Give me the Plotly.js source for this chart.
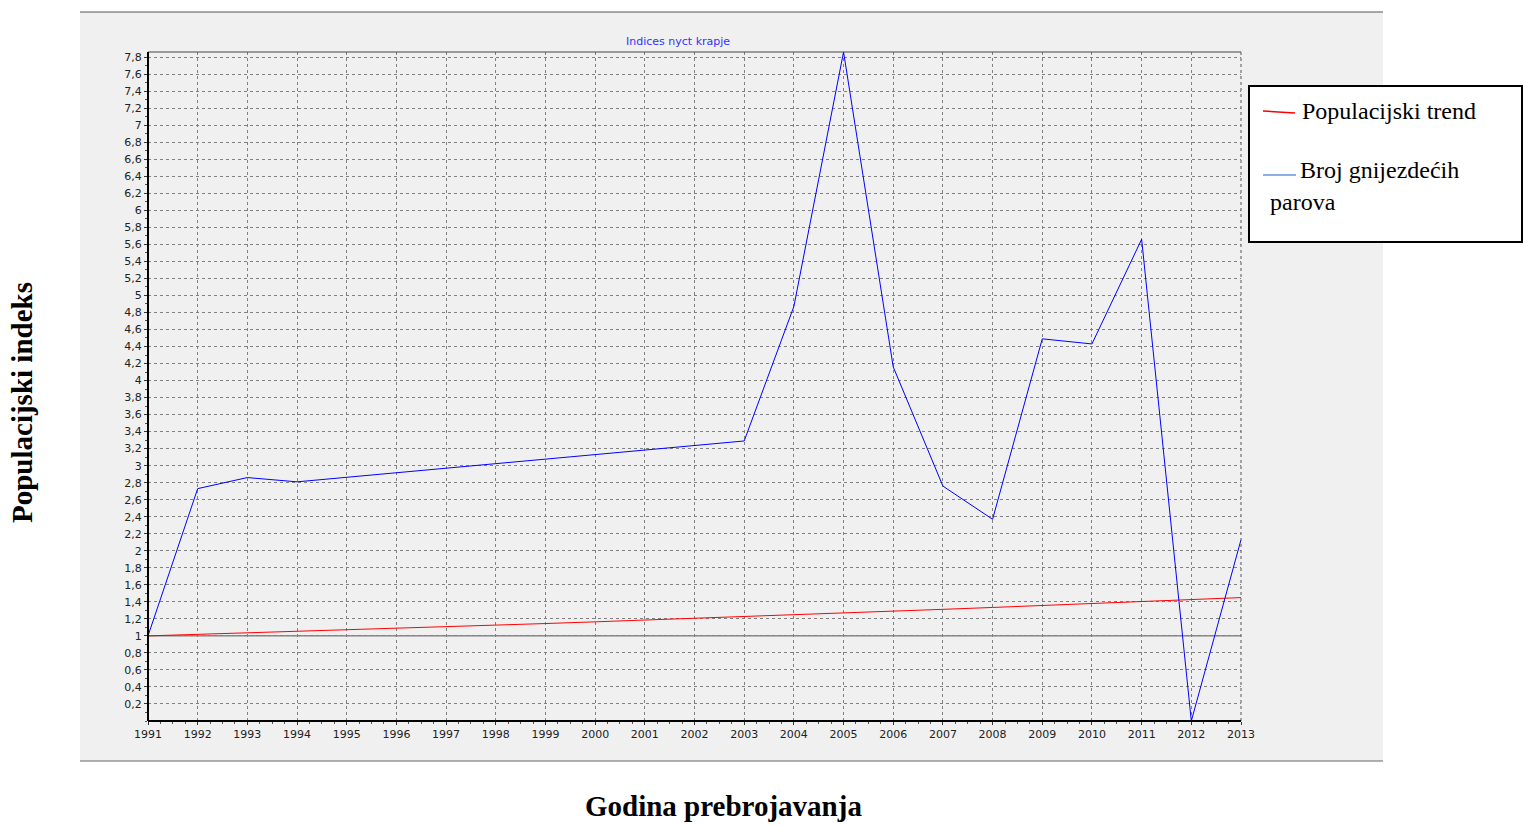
<!DOCTYPE html>
<html>
<head>
<meta charset="utf-8">
<script src="https://cdn.plot.ly/plotly-3.0.1.min.js"></script>
<style>html,body{margin:0;padding:0;background:#fff;}#chart{width:1523px;height:826px;}</style>
</head>
<body>
<div id="chart"></div>
<script>
// Data
const chartTitle = 'Indices nyct krapje';
const xTitle = 'Godina prebrojavanja';
const yTitle = 'Populacijski indeks';
const seriesNames = ['Populacijski trend', 'Broj gnijezdećih', 'parova'];

const countYears  = [1991, 1992, 1993, 1994, 2003, 2004, 2005, 2006, 2007, 2008, 2009, 2010, 2011, 2012, 2013];
const countValues = [1.00, 2.73, 2.86, 2.81, 3.29, 4.87, 7.86, 4.16, 2.76, 2.37, 4.49, 4.43, 5.66, 0.00, 2.13];

const trendYears  = [1991, 1992, 1993, 1994, 1995, 1996, 1997, 1998, 1999, 2000, 2001, 2002,
                     2003, 2004, 2005, 2006, 2007, 2008, 2009, 2010, 2011, 2012, 2013];
const trendValues = [1.000, 1.017, 1.034, 1.052, 1.070, 1.088, 1.107, 1.126, 1.145, 1.165, 1.185, 1.205,
                     1.226, 1.247, 1.268, 1.290, 1.312, 1.334, 1.357, 1.381, 1.404, 1.428, 1.450];

const xTickLabels = ['1991','1992','1993','1994','1995','1996','1997','1998','1999','2000','2001','2002',
                     '2003','2004','2005','2006','2007','2008','2009','2010','2011','2012','2013'];
const yTickLabels = ['0,2','0,4','0,6','0,8','1','1,2','1,4','1,6','1,8','2','2,2','2,4','2,6','2,8','3',
                     '3,2','3,4','3,6','3,8','4','4,2','4,4','4,6','4,8','5','5,2','5,4','5,6','5,8','6',
                     '6,2','6,4','6,6','6,8','7','7,2','7,4','7,6','7,8'];
const yTickVals = yTickLabels.map(s => parseFloat(s.replace(',', '.')));
const xTickVals = xTickLabels.map(Number);
const baseline = 1;

const tickFont = {family: 'DejaVu Sans, sans-serif', size: 11, color: '#222222'};
const serif = 'Liberation Serif, Times New Roman, serif';

// pixel -> paper helpers (plot area: x 148..1241, y 52..721)
const L = 148, R = 1241, T = 52, B = 721;
const px = x => (x - L) / (R - L);
const py = y => (B - y) / (B - T);

const traces = [
  {x: trendYears, y: trendValues, type: 'scatter', mode: 'lines', name: 'Populacijski trend',
   line: {color: '#ff0000', width: 1}, showlegend: false, cliponaxis: false},
  {x: countYears, y: countValues, type: 'scatter', mode: 'lines', name: 'Broj gnijezdećih parova',
   line: {color: '#0000ff', width: 1}, showlegend: false, cliponaxis: false}
];

const shapes = [
  // grey panel
  {type: 'rect', xref: 'paper', yref: 'paper', x0: px(80), x1: px(1383), y0: py(761), y1: py(12),
   fillcolor: '#f0f0f0', line: {width: 0}, layer: 'below'},
  {type: 'line', xref: 'paper', yref: 'paper', x0: px(80), x1: px(1383), y0: py(12), y1: py(12),
   line: {color: '#555555', width: 1}},
  {type: 'line', xref: 'paper', yref: 'paper', x0: px(80), x1: px(1383), y0: py(761), y1: py(761),
   line: {color: '#666666', width: 1}},
  // baseline at 1
  {type: 'line', xref: 'paper', yref: 'y', x0: 0, x1: 1, y0: baseline, y1: baseline,
   line: {color: '#555555', width: 1}, layer: 'below'},
  // plot frame
  {type: 'line', xref: 'paper', yref: 'paper', x0: 0, x1: 1, y0: 1, y1: 1, line: {color: '#444444', width: 1}},
  {type: 'line', xref: 'paper', yref: 'paper', x0: 1, x1: 1, y0: 0, y1: 1, line: {color: '#555555', width: 1, dash: 'dot'}},
  {type: 'line', xref: 'paper', yref: 'paper', x0: 0, x1: 0, y0: 0, y1: 1, line: {color: '#000000', width: 2}},
  {type: 'line', xref: 'paper', yref: 'paper', x0: 0, x1: 1, y0: 0, y1: 0, line: {color: '#000000', width: 2}},
  // legend box
  {type: 'rect', xref: 'paper', yref: 'paper', x0: px(1249), x1: px(1522), y0: py(242), y1: py(86),
   fillcolor: '#ffffff', line: {color: '#000000', width: 2}},
  {type: 'line', xref: 'paper', yref: 'paper', x0: px(1263), x1: px(1295), y0: py(111), y1: py(113),
   line: {color: '#ff0000', width: 1.5}},
  {type: 'line', xref: 'paper', yref: 'paper', x0: px(1263), x1: px(1296), y0: py(175), y1: py(175),
   line: {color: '#6495dd', width: 1.5}}
];

const annotations = [
  {text: chartTitle, xref: 'paper', yref: 'paper', x: px(678), y: py(41), xanchor: 'center', yanchor: 'middle',
   showarrow: false, font: {family: 'DejaVu Sans, sans-serif', size: 11, color: '#3333ff'}},
  {text: '<b>' + xTitle + '</b>', xref: 'paper', yref: 'paper', x: px(723), y: py(806), xanchor: 'center', yanchor: 'middle',
   showarrow: false, font: {family: serif, size: 29, color: '#000000'}},
  {text: '<b>' + yTitle + '</b>', xref: 'paper', yref: 'paper', x: px(22), y: py(403), xanchor: 'center', yanchor: 'middle',
   textangle: -90, showarrow: false, font: {family: serif, size: 29, color: '#000000'}},
  {text: seriesNames[0], xref: 'paper', yref: 'paper', x: px(1300), y: py(111), xanchor: 'left', yanchor: 'middle',
   showarrow: false, font: {family: serif, size: 24, color: '#000000'}},
  {text: seriesNames[1], xref: 'paper', yref: 'paper', x: px(1298), y: py(170), xanchor: 'left', yanchor: 'middle',
   showarrow: false, font: {family: serif, size: 24, color: '#000000'}},
  {text: seriesNames[2], xref: 'paper', yref: 'paper', x: px(1268), y: py(202), xanchor: 'left', yanchor: 'middle',
   showarrow: false, font: {family: serif, size: 24, color: '#000000'}}
];

const layout = {
  width: 1523, height: 826,
  margin: {l: L, r: 1523 - R, t: T, b: 826 - B, pad: 0},
  paper_bgcolor: '#ffffff',
  plot_bgcolor: '#f0f0f0',
  separators: ', ',
  showlegend: false,
  xaxis: {
    range: [1991, 2013], tickvals: xTickVals, ticktext: xTickLabels, tickfont: tickFont,
    showgrid: true, gridcolor: '#808080', griddash: '3px,3px', gridwidth: 1,
    zeroline: false, showline: false, ticks: 'outside', ticklen: 3, tickcolor: '#333333',
    minor: {dtick: 0.25, tick0: 1991, ticks: 'outside', ticklen: 2, tickcolor: '#555555', showgrid: false},
    fixedrange: true
  },
  yaxis: {
    range: [0, 7.86], tickvals: yTickVals, ticktext: yTickLabels, tickfont: tickFont,
    showgrid: true, gridcolor: '#808080', griddash: '3px,3px', gridwidth: 1,
    zeroline: false, showline: false, ticks: 'outside', ticklen: 3, tickcolor: '#333333',
    minor: {dtick: 0.1, tick0: 0, ticks: 'outside', ticklen: 2, tickcolor: '#555555', showgrid: false},
    fixedrange: true
  },
  shapes: shapes,
  annotations: annotations
};

Plotly.newPlot('chart', traces, layout, {displayModeBar: false, staticPlot: true});
</script>
</body>
</html>
